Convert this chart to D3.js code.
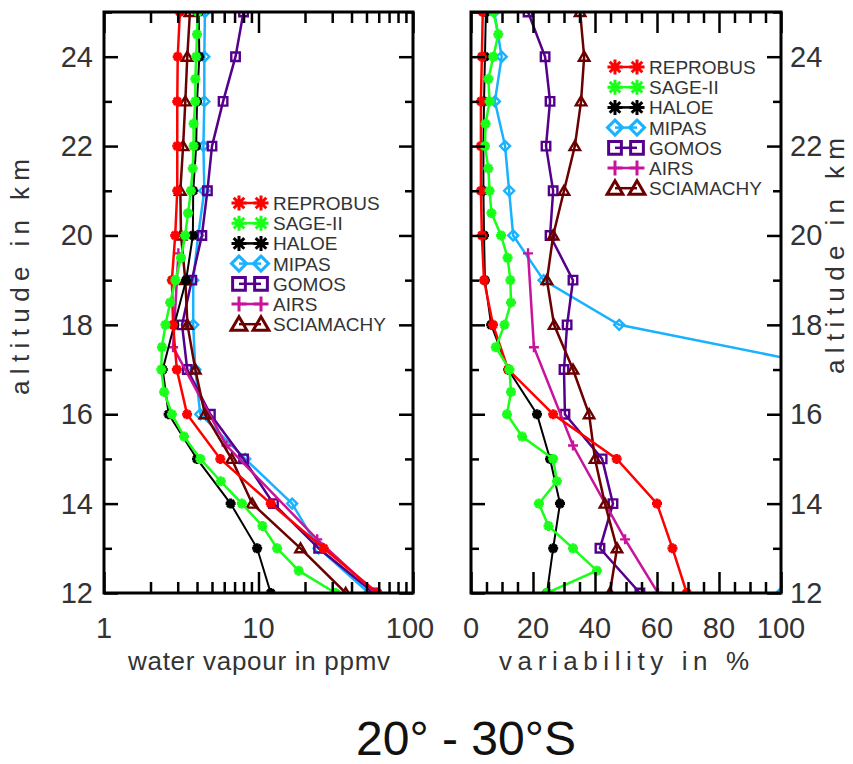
<!DOCTYPE html>
<html>
<head>
<meta charset="utf-8">
<script src="https://cdn.jsdelivr.net/npm/d3@7"></script>
<style>
  body { margin: 0; background: #fff; }
  svg { display: block; }
  text { font-family: "Liberation Sans", Arial, sans-serif; fill: #333; }
</style>
</head>
<body>
<svg id="chart" width="853" height="764"></svg>
<script>
// altitude levels (km)
var altitudes = [12, 13, 14, 15, 16, 17, 18, 19, 20, 21, 22, 23, 24, 25];
var sageAltitudes = [12, 12.5, 13, 13.5, 14, 14.5, 15, 15.5, 16, 16.5, 17, 17.5, 18, 18.5,
                     19, 19.5, 20, 20.5, 21, 21.5, 22, 22.5, 23, 23.5, 24, 24.5, 25];
var airsAltitudes = [12, 13.2, 15.3, 17.5, 19.6];

// water vapour, ppmv (left panel)
var reprobusWv = [59, 26.4, 12, 5.66, 3.45, 2.96, 2.8, 2.75, 2.89, 2.98, 2.98, 2.98, 3.0, 3.1];
var sageWv = [31.5, 18.2, 13.2, 10.6, 7.8, 5.7, 4.2, 3.3, 2.75, 2.45, 2.35, 2.37, 2.5, 2.68,
              2.9, 3.15, 3.35, 3.5, 3.65, 3.75, 3.8, 3.8, 3.9, 3.9, 3.95, 4.0, 4.05];
var haloeWv = [12, 9.8, 6.6, 4.0, 2.62, 2.4, 2.85, 3.4, 3.76, 3.78, 3.95, 4.0, 4.14, 4.1];
var mipasWv = [51.8, 24.5, 16.5, 8.2, 4.2, 3.9, 3.78, 3.78, 4.07, 4.46, 4.4, 4.46, 4.46, 4.5];
var gomosWv = [55.8, 24.5, 12.5, 8.0, 4.88, 3.46, 3.2, 3.7, 4.3, 4.67, 5.0, 5.9, 7.1, 8.0];
var airsWv = [57, 24, 6.2, 2.8, 3.03];
var sciaWv = [36.7, 18.7, 9.1, 6.7, 4.5, 3.9, 3.47, 3.36, 3.15, 3.12, 3.25, 3.36, 3.46, 3.6];

// variability, % (right panel)
var reprobusVar = [69.6, 65, 60, 47, 26.5, 12, 7.1, 4.2, 3.5, 3.2, 3.2, 3.2, 3.5, 3.8];
var sageVar = [24.5, 40.6, 32.9, 25, 21.9, 27.7, 26.5, 16.5, 11.6, 12.9, 12.4, 8.0, 10.8, 12.9,
               12.7, 11.8, 9.7, 6.6, 6.0, 5.6, 4.5, 4.7, 6.0, 5.6, 7.2, 8.8, 7.2];
var haloeVar = [24.5, 26.5, 28.7, 25.5, 21.3, 12, 6.5, 4.5, 4.2, 4.0, 4.0, 4.2, 4.5, 4.8];
var mipasVar = [100, 250, 210, 180, 150, 120, 47.8, 23.4, 13.6, 12.3, 11, 7.7, 9.9, 7.5];
var gomosVar = [54.5, 41.6, 45.8, 42.3, 30.3, 30, 31, 32.9, 25.5, 26.5, 24.2, 25.5, 23.9, 18.4];
var airsVar = [60.3, 49.7, 32.9, 20.3, 18.4];
var sciaVar = [44.8, 47.1, 43.2, 40, 38.1, 32.9, 26.8, 24.5, 26.5, 30, 33.5, 35.5, 36.5, 35.2];

var names = ["REPROBUS", "SAGE-II", "HALOE", "MIPAS", "GOMOS", "AIRS", "SCIAMACHY"];
var colors = ["#ff0000", "#1aff1a", "#000000", "#19b2ff", "#55008c", "#c8149b", "#6b0000"];
var shapes = ["star", "star", "star", "diamond", "square", "plus", "triangle"];

var yTicks = [12, 14, 16, 18, 20, 22, 24];
var wvTicks = [1, 10, 100];
var varTicks = [0, 20, 40, 60, 80, 100];

var series = [
  { alt: altitudes, wv: reprobusWv, vr: reprobusVar },
  { alt: sageAltitudes, wv: sageWv, vr: sageVar },
  { alt: altitudes, wv: haloeWv, vr: haloeVar },
  { alt: altitudes, wv: mipasWv, vr: mipasVar },
  { alt: altitudes, wv: gomosWv, vr: gomosVar },
  { alt: airsAltitudes, wv: airsWv, vr: airsVar },
  { alt: altitudes, wv: sciaWv, vr: sciaVar }
].map(function(s, i) {
  s.name = names[i]; s.color = colors[i]; s.shape = shapes[i];
  return s;
});
var drawOrder = [3, 4, 5, 6, 2, 0, 1];

var svg = d3.select("#chart");

var y = d3.scaleLinear().domain([12, 25]).range([593, 12]);
var xWv = d3.scaleLog().domain([1, 100]).range([104, 413]);
var xVar = d3.scaleLinear().domain([0, 100]).range([471, 781]);

function markerPath(shape, r) {
  var p = d3.path();
  if (shape == "star") {
    for (var k = 0; k < 4; k++) {
      var a = k * Math.PI / 4;
      p.moveTo(-r * Math.cos(a), -r * Math.sin(a));
      p.lineTo(r * Math.cos(a), r * Math.sin(a));
    }
  } else if (shape == "diamond") {
    p.moveTo(0, -r); p.lineTo(r, 0); p.lineTo(0, r); p.lineTo(-r, 0); p.closePath();
  } else if (shape == "square") {
    p.rect(-r * 0.85, -r * 0.85, r * 1.7, r * 1.7);
  } else if (shape == "plus") {
    p.moveTo(-r, 0); p.lineTo(r, 0); p.moveTo(0, -r); p.lineTo(0, r);
  } else {
    p.moveTo(0, -r); p.lineTo(r * 1.05, r * 0.8); p.lineTo(-r * 1.05, r * 0.8); p.closePath();
  }
  return p.toString();
}

function drawPanel(id, x, key, majorX, minorX, yLabelSide) {
  var x0 = x.range()[0], x1 = x.range()[1];
  var g = svg.append("g");

  svg.append("clipPath").attr("id", id)
    .append("rect").attr("x", x0).attr("y", 12).attr("width", x1 - x0).attr("height", 581);

  var plot = g.append("g").attr("clip-path", "url(#" + id + ")");
  drawOrder.forEach(function(i) {
    var s = series[i];
    var pts = s.alt.map(function(a, j) { return [x(s[key][j]), y(a)]; });
    plot.append("path")
      .attr("d", d3.line()(pts))
      .attr("fill", "none")
      .attr("stroke", s.color)
      .attr("stroke-width", i == 2 ? 2 : 2.5);
    plot.selectAll(null).data(pts).enter().append("path")
      .attr("transform", function(d) { return "translate(" + d[0] + "," + d[1] + ")"; })
      .attr("d", markerPath(s.shape, 5))
      .attr("fill", "none")
      .attr("stroke", s.color)
      .attr("stroke-width", s.shape == "star" ? 3 : 2.4);
  });

  // ticks, all pointing inward
  function tickSet(axis, vals, size, tr) {
    var a = g.append("g").attr("transform", tr)
      .call(axis.tickValues(vals).tickSize(size).tickFormat(""));
    a.select(".domain").remove();
    a.selectAll("line").attr("stroke", "#000").attr("stroke-width", 2.5);
  }
  tickSet(d3.axisBottom(x), majorX, -21, "translate(0,593)");
  tickSet(d3.axisBottom(x), minorX, -11, "translate(0,593)");
  tickSet(d3.axisTop(x), majorX, -21, "translate(0,12)");
  tickSet(d3.axisTop(x), minorX, -11, "translate(0,12)");
  var yMinor = altitudes.filter(function(a) { return yTicks.indexOf(a) < 0; });
  tickSet(d3.axisLeft(y), yTicks, -14, "translate(" + x0 + ",0)");
  tickSet(d3.axisLeft(y), yMinor, -8, "translate(" + x0 + ",0)");
  tickSet(d3.axisRight(y), yTicks, -14, "translate(" + x1 + ",0)");
  tickSet(d3.axisRight(y), yMinor, -8, "translate(" + x1 + ",0)");

  g.append("rect")
    .attr("x", x0).attr("y", 12).attr("width", x1 - x0).attr("height", 581)
    .attr("fill", "none").attr("stroke", "#000").attr("stroke-width", 3);

  // tick labels
  g.selectAll(null).data(majorX).enter().append("text")
    .attr("x", function(d) { return x(d) - (d == 100 && key == "wv" ? 3 : 0); })
    .attr("y", 638)
    .attr("text-anchor", "middle")
    .style("font-size", "29px")
    .text(function(d) { return d; });

  g.selectAll(null).data(yTicks).enter().append("text")
    .attr("x", yLabelSide == "left" ? x0 - 11 : x1 + 9)
    .attr("y", function(d) { return y(d) + 10; })
    .attr("text-anchor", yLabelSide == "left" ? "end" : "start")
    .style("font-size", "29px")
    .text(function(d) { return d; });
}

drawPanel("clipWv", xWv, "wv", wvTicks, xWv.ticks().filter(function(d) { return wvTicks.indexOf(d) < 0; }), "left");
drawPanel("clipVar", xVar, "vr", varTicks, d3.range(0, 101, 5).filter(function(d) { return d % 20; }), "right");

// legends
function legend(lx, ly) {
  var lg = svg.append("g");
  series.forEach(function(s, i) {
    var cy = ly + i * 20.2;
    lg.append("line").attr("x1", lx + 9).attr("x2", lx + 31).attr("y1", cy).attr("y2", cy)
      .attr("stroke", s.color).attr("stroke-width", 2.5);
    [lx + 9, lx + 31].forEach(function(mx) {
      lg.append("path")
        .attr("transform", "translate(" + mx + "," + cy + ")")
        .attr("d", markerPath(s.shape, 7.5))
        .attr("fill", "none").attr("stroke", s.color).attr("stroke-width", 3);
    });
    lg.append("text").attr("x", lx + 43).attr("y", cy + 7)
      .style("font-size", "19px")
      .text(s.name);
  });
}
legend(230, 203);
legend(606, 67);

// axis titles
svg.append("text").attr("x", 259).attr("y", 670).attr("text-anchor", "middle")
  .style("font-size", "26px").attr("textLength", 262).attr("lengthAdjust", "spacing")
  .text("water vapour in ppmv");
svg.append("text").attr("x", 624).attr("y", 670).attr("text-anchor", "middle")
  .style("font-size", "26px").attr("textLength", 250).attr("lengthAdjust", "spacing")
  .text("variability in %");
svg.append("text").attr("transform", "translate(29,277) rotate(-90)").attr("text-anchor", "middle")
  .style("font-size", "26px").attr("textLength", 236).attr("lengthAdjust", "spacing")
  .text("altitude in km");
svg.append("text").attr("transform", "translate(844,256) rotate(-90)").attr("text-anchor", "middle")
  .style("font-size", "26px").attr("textLength", 236).attr("lengthAdjust", "spacing")
  .text("altitude in km");

svg.append("text").attr("x", 466).attr("y", 755).attr("text-anchor", "middle")
  .style("font-size", "48px").style("fill", "#111")
  .text("20° - 30°S");
</script>
</body>
</html>
